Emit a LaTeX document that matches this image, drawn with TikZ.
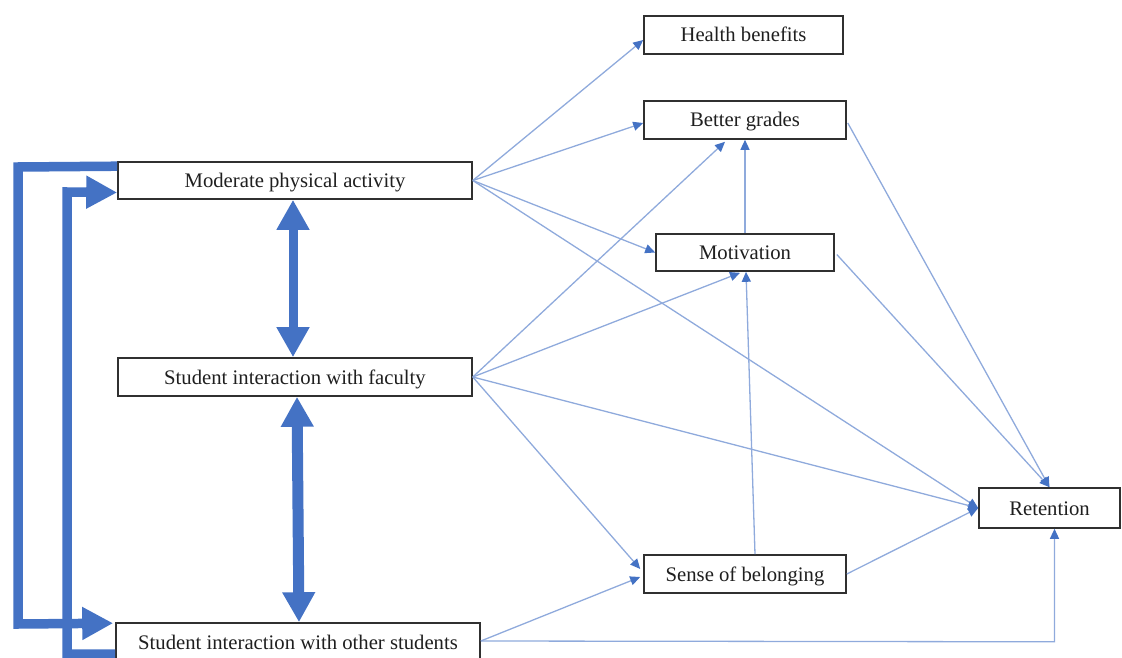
\documentclass[tikz,border=0pt]{standalone}
\usepackage{fontspec}
\setmainfont{Liberation Serif}
\usetikzlibrary{arrows.meta,calc}
\definecolor{thickblue}{HTML}{4472C4}
\definecolor{thinblue}{HTML}{8FAADC}
\definecolor{boxline}{HTML}{303030}
\begin{document}
\begin{tikzpicture}[x=1pt,y=-1pt,
  box/.style={draw=boxline,line width=1.6pt,fill=white,inner sep=0pt,
    text height=14pt,text depth=0pt,
    font=\fontsize{20.7}{24}\selectfont,text=black!88},
  thin/.style={draw=thinblue,line width=1.3pt,
    -{Triangle[length=10pt,width=9pt,color=thickblue]}},
  dbl/.style={draw=thickblue,line width=#1,
    {Triangle[length=30pt,width=31pt]}-{Triangle[length=30pt,width=31pt]}},
  loop/.style={draw=thickblue,line width=9.5pt,line join=miter,
    -{Triangle[length=31pt,width=31pt]}}
]
\useasboundingbox (0,0) rectangle (1122,658);
\clip (0,0) rectangle (1122,658);

\node[box,minimum width=199pt,minimum height=38pt] (health) at (743.5,35) {Health benefits};
\node[box,minimum width=202pt,minimum height=38pt] (better) at (745,120) {Better grades};
\node[box,minimum width=354pt,minimum height=37pt] (mod) at (295,180.5) {Moderate physical activity};
\node[box,minimum width=178pt,minimum height=37pt] (mot) at (745,252.5) {Motivation};
\node[box,minimum width=354pt,minimum height=38pt] (fac) at (295,377) {Student interaction with faculty};
\node[box,minimum width=141pt,minimum height=40pt] (ret) at (1049.5,508) {Retention};
\node[box,minimum width=202pt,minimum height=38pt] (sense) at (745,574) {Sense of belonging};
\node[box,minimum width=364pt,minimum height=38pt] (other) at (298,642) {Student interaction with other students};

% thin connectors
\draw[thin] (mod.east) -- ($(health.west)+(0,5)$);
\draw[thin] (mod.east) -- ($(better.west)+(0,3)$);
\draw[thin] (mod.east) -- (mot.west);
\draw[thin] (mod.east) -- (ret.west);
\draw[thin] (fac.east) -- ($(better.south)+(-20,2)$);
\draw[thin] (fac.east) -- ($(mot.south)+(-5,1)$);
\draw[thin] (fac.east) -- (ret.west);
\draw[thin] (fac.east) -- ($(sense.west)+(-3,-5)$);
\draw[thin] ($(other.east)+(0,-1)$) -- ($(sense.west)+(-3,3)$);
\coordinate (corner) at ($(ret.south)+(5,113)$);
\draw[thin] ($(other.east)+(0,-1)$) -- (corner) -- ($(ret.south)+(5,0)$);
\draw[thin] (mot.north) -- (better.south);
\draw[thin] ($(sense.north)+(10,0)$) -- ($(mot.south)+(1,0)$);
\draw[thin] ($(better.east)+(1,3)$) -- (ret.north);
\draw[thin] ($(mot.east)+(2,2)$) -- (ret.north);
\draw[thin] (sense.east) -- (ret.west);

% thick arrows
\draw[dbl=9pt] ($(mod.south)+(-2,0)$) -- ($(fac.north)+(-2,0)$);
\draw[dbl=11pt] ($(fac.south)+(2,0)$) -- ($(other.north)+(1,0)$);

\coordinate (l1a) at (18,167);
\coordinate (l1b) at (18,624);
\draw[loop] ($(mod.north west)+(0,5)$) -- (l1a) -- (l1b) -- ($(other.north west)+(-2,1)$);
\coordinate (l2a) at (67,654);
\coordinate (l2b) at (67,192);
\draw[loop] ($(other.west)+(0,12)$) -- (l2a) -- (l2b) -- ($(mod.west)+(0,12)$);
\end{tikzpicture}
\end{document}
